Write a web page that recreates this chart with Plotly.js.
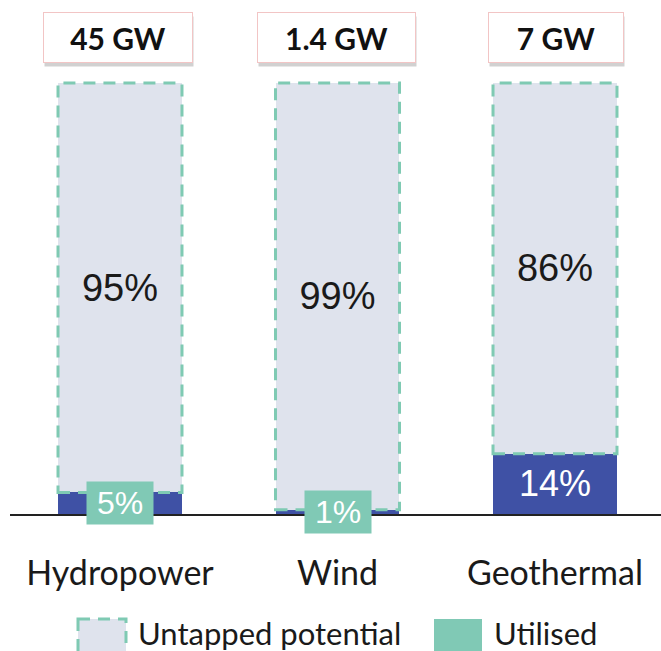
<!DOCTYPE html>
<html>
<head>
<meta charset="utf-8">
<script src="https://cdn.plot.ly/plotly-3.0.1.min.js"></script>
<style>html,body{margin:0;padding:0;background:#fff;}#chart{width:661px;height:651px;}</style>
</head>
<body>
<div id="chart"></div>
<script>
// ---- data ----
const categories = ['Hydropower', 'Wind', 'Geothermal'];
const utilised = [5, 1, 14];
const untapped = [95, 99, 86];
const capacityLabels = ['45 GW', '1.4 GW', '7 GW'];
const seriesNames = ['Untapped potential', 'Utilised'];

// ---- style / geometry ----
const W = 661, H = 651;
const M = {l: 10, r: 0, t: 0, b: 137};
const plotW = W - M.l - M.r, plotH = H - M.t - M.b;
const BLUE = '#3f51a5', TEAL = '#80c9b5', GREY = '#dfe3ed', DASH_TEAL = '#7fcab3';
const barW = 0.57;
const pxPerCat = 217.5;
const xmin = -(120 - M.l) / pxPerCat;
const xmax = xmin + plotW / pxPerCat;
const pxPerPct = 4.31;
const ymax = plotH / pxPerPct;
const px2x = p => (p - M.l) / plotW;
const py2y = p => (M.t + plotH - p) / plotH;

const traces = [
  {
    type: 'bar', x: categories, y: utilised, name: seriesNames[1],
    width: barW, marker: {color: BLUE, line: {width: 0}},
    hoverinfo: 'skip', showlegend: false
  },
  {
    type: 'bar', x: categories, y: untapped, name: seriesNames[0],
    width: barW, marker: {color: GREY, line: {width: 0}},
    text: untapped.map(v => v + '%'), textposition: 'inside', insidetextanchor: 'middle',
    textangle: 0, constraintext: 'none',
    textfont: {family: 'Liberation Sans, Arial, sans-serif', size: 38, color: '#1a1a1a'},
    hoverinfo: 'skip', showlegend: false
  }
];

const shapes = [];
categories.forEach((c, i) => {
  shapes.push({
    type: 'rect', xref: 'x', yref: 'y',
    x0: i - barW / 2, x1: i + barW / 2, y0: utilised[i], y1: utilised[i] + untapped[i],
    line: {color: DASH_TEAL, width: 3, dash: '12px,8px'}, fillcolor: 'rgba(0,0,0,0)', layer: 'above'
  });
});
// legend swatches
shapes.push({type: 'rect', xref: 'paper', yref: 'paper',
  x0: px2x(78), x1: px2x(126), y0: py2y(619), y1: py2y(667),
  fillcolor: GREY, line: {color: DASH_TEAL, width: 3, dash: '12px,8px'}});
shapes.push({type: 'rect', xref: 'paper', yref: 'paper',
  x0: px2x(434), x1: px2x(482), y0: py2y(619), y1: py2y(667),
  fillcolor: TEAL, line: {width: 0}});

const annotations = [];
const boxW = [148, 157, 134];
const boxShift = [-2, -1, 1];
categories.forEach((c, i) => {
  // shadow
  annotations.push({
    xref: 'x', yref: 'paper', x: i, y: py2y(38), yanchor: 'middle', text: '', showarrow: false,
    width: boxW[i], height: 49, borderpad: 0, borderwidth: 1,
    bgcolor: 'rgba(0,0,0,0.18)', bordercolor: 'rgba(0,0,0,0)', xshift: boxShift[i] + 1, yshift: -4
  });
  annotations.push({
    xref: 'x', yref: 'paper', x: i, y: py2y(38), yanchor: 'middle', text: '<b>' + capacityLabels[i] + '</b>', showarrow: false,
    width: boxW[i], height: 49, borderpad: 0, borderwidth: 1, xshift: boxShift[i],
    bgcolor: '#ffffff', bordercolor: '#f2c5c5',
    font: {family: 'Lato, sans-serif', size: 30, color: '#111'}
  });
  const small = utilised[i] < 10;
  annotations.push({
    xref: 'x', yref: 'y', x: i, y: utilised[i] / 2, text: utilised[i] + '%', showarrow: false,
    width: small ? 66 : undefined, height: small ? 42 : undefined, borderpad: 0,
    bgcolor: small ? TEAL : 'rgba(0,0,0,0)',
    font: {family: 'Liberation Sans, Arial, sans-serif', size: small ? 32 : 36, color: '#ffffff'}
  });
});
// legend text
annotations.push({xref: 'paper', yref: 'paper', x: px2x(136), y: py2y(633), xanchor: 'left', yanchor: 'middle',
  text: seriesNames[0], showarrow: false, font: {family: 'Lato, sans-serif', size: 31, color: '#1a1a1a'}});
annotations.push({xref: 'paper', yref: 'paper', x: px2x(492), y: py2y(633), xanchor: 'left', yanchor: 'middle',
  text: seriesNames[1], showarrow: false, font: {family: 'Lato, sans-serif', size: 31, color: '#1a1a1a'}});

const layout = {
  width: W, height: H, margin: M,
  paper_bgcolor: '#fff', plot_bgcolor: '#fff',
  barmode: 'stack', showlegend: false,
  xaxis: {
    type: 'category', range: [xmin, xmax], showgrid: false, zeroline: false,
    showline: true, linecolor: '#222', linewidth: 1.5, ticks: '',
    ticklabelstandoff: 29,
    tickfont: {family: 'Lato, sans-serif', size: 34, color: '#1a1a1a'}
  },
  yaxis: {range: [0, ymax], visible: false, fixedrange: true},
  shapes: shapes, annotations: annotations
};

Plotly.newPlot('chart', traces, layout, {staticPlot: true, displayModeBar: false});
</script>
</body>
</html>
